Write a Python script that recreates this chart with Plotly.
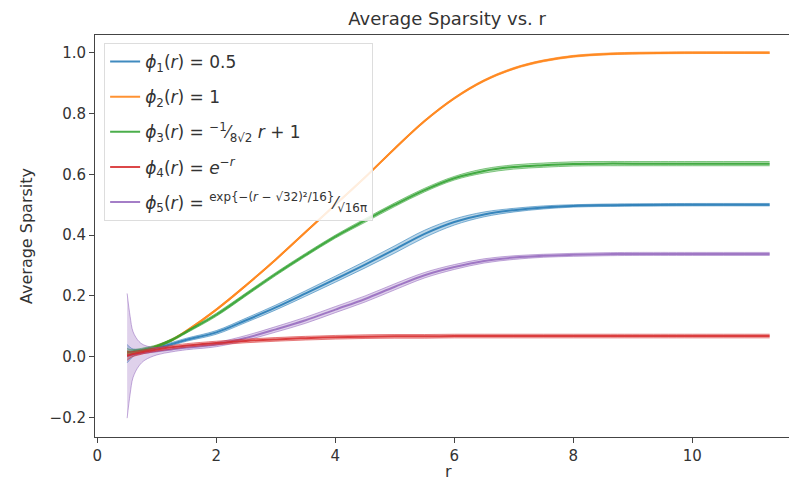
import plotly.graph_objects as go

r_vals = [0.5, 0.55, 0.6, 0.7, 0.8, 1.0, 1.25, 1.5, 2.0, 2.5, 3.0, 3.5, 4.0, 4.5,
          5.0, 5.5, 6.0, 6.5, 7.0, 7.5, 8.0, 8.5, 9.0, 10.0, 11.3]

phi1_mean = [0.010, 0.011, 0.013, 0.017, 0.021, 0.030, 0.042, 0.056, 0.080, 0.120, 0.162, 0.208,
             0.255, 0.303, 0.353, 0.404, 0.443, 0.468, 0.482, 0.491, 0.496, 0.498, 0.499, 0.500, 0.500]
phi1_std = [0.030, 0.020, 0.012, 0.007, 0.006, 0.005, 0.005, 0.005, 0.006, 0.007, 0.008, 0.009,
            0.010, 0.011, 0.012, 0.012, 0.010, 0.008, 0.006, 0.005, 0.004, 0.004, 0.004, 0.004, 0.004]

phi2_mean = [0.010, 0.012, 0.014, 0.018, 0.022, 0.035, 0.055, 0.085, 0.155, 0.235, 0.320, 0.410,
             0.500, 0.590, 0.685, 0.775, 0.850, 0.908, 0.948, 0.973, 0.988, 0.995, 0.998, 1.000, 1.000]
phi2_std = [0.010, 0.006, 0.004, 0.003, 0.003, 0.003, 0.003, 0.003, 0.003, 0.003, 0.003, 0.003,
            0.003, 0.003, 0.003, 0.003, 0.003, 0.003, 0.003, 0.003, 0.003, 0.003, 0.003, 0.003, 0.003]

phi3_mean = [0.015, 0.016, 0.018, 0.021, 0.025, 0.035, 0.055, 0.082, 0.138, 0.205, 0.272, 0.335,
             0.395, 0.448, 0.500, 0.548, 0.587, 0.611, 0.624, 0.630, 0.634, 0.635, 0.635, 0.635, 0.635]
phi3_std = [0.012, 0.008, 0.006, 0.005, 0.005, 0.004, 0.004, 0.004, 0.005, 0.005, 0.005, 0.005,
            0.005, 0.006, 0.006, 0.006, 0.006, 0.007, 0.007, 0.007, 0.007, 0.007, 0.007, 0.007, 0.007]

phi4_mean = [0.003, 0.006, 0.009, 0.013, 0.017, 0.024, 0.031, 0.037, 0.045, 0.052, 0.057, 0.061,
             0.064, 0.066, 0.067, 0.067, 0.068, 0.068, 0.068, 0.068, 0.068, 0.068, 0.068, 0.068, 0.068]
phi4_std = [0.015, 0.010, 0.008, 0.007, 0.006, 0.006, 0.006, 0.006, 0.006, 0.006, 0.006, 0.006,
            0.006, 0.006, 0.006, 0.006, 0.006, 0.006, 0.006, 0.006, 0.006, 0.006, 0.006, 0.006, 0.006]

phi5_mean = [0.003, 0.005, 0.007, 0.010, 0.013, 0.018, 0.024, 0.030, 0.040, 0.062, 0.090, 0.120,
             0.155, 0.190, 0.230, 0.268, 0.295, 0.315, 0.326, 0.332, 0.335, 0.337, 0.338, 0.338, 0.338]
phi5_std = [0.205, 0.128, 0.075, 0.040, 0.024, 0.012, 0.008, 0.007, 0.007, 0.008, 0.009, 0.010,
            0.010, 0.010, 0.010, 0.009, 0.008, 0.007, 0.006, 0.005, 0.005, 0.005, 0.005, 0.005, 0.005]

labels = [
    "<i>ϕ</i><sub>1</sub>(<i>r</i>) = 0.5",
    "<i>ϕ</i><sub>2</sub>(<i>r</i>) = 1",
    "<i>ϕ</i><sub>3</sub>(<i>r</i>) = <sup>−1</sup>⁄<sub>8√2</sub> <i>r</i> + 1",
    "<i>ϕ</i><sub>4</sub>(<i>r</i>) = <i>e</i><sup>−<i>r</i></sup>",
    "<i>ϕ</i><sub>5</sub>(<i>r</i>) = <sup>exp{−(<i>r</i> − √32)²/16}</sup>⁄<sub>√16π</sub>",
]
colors = [(31, 119, 180), (255, 127, 14), (44, 160, 44), (214, 39, 40), (148, 103, 189)]
means = [phi1_mean, phi2_mean, phi3_mean, phi4_mean, phi5_mean]
stds = [phi1_std, phi2_std, phi3_std, phi4_std, phi5_std]

fig = go.Figure()
order = [0, 1, 2, 4, 3]
for i in order:
    c = colors[i]
    m, s = means[i], stds[i]
    upper = [a + b for a, b in zip(m, s)]
    lower = [a - b for a, b in zip(m, s)]
    fig.add_trace(go.Scatter(x=r_vals, y=upper, mode="lines", showlegend=False,
                             line=dict(color=f"rgba({c[0]},{c[1]},{c[2]},0.55)", width=1, shape="spline", smoothing=1),
                             hoverinfo="skip"))
    fig.add_trace(go.Scatter(x=r_vals, y=lower, mode="lines", showlegend=False, fill="tonexty",
                             fillcolor=f"rgba({c[0]},{c[1]},{c[2]},0.3)",
                             line=dict(color=f"rgba({c[0]},{c[1]},{c[2]},0.55)", width=1, shape="spline", smoothing=1),
                             hoverinfo="skip"))
    fig.add_trace(go.Scatter(x=r_vals, y=m, mode="lines", name=labels[i], legendrank=i + 1,
                             legendgroup=f"g{i}",
                             line=dict(color=f"rgba({c[0]},{c[1]},{c[2]},0.85)", width=2, shape="spline", smoothing=1)))

axis_common = dict(showline=True, linecolor="#444", linewidth=1, ticks="outside", ticklen=5,
                   tickcolor="#444", showgrid=False, zeroline=False, automargin=False,
                   tickfont=dict(family="DejaVu Sans", size=15, color="#333"))

fig.update_layout(
    width=797, height=482,
    margin=dict(l=87, r=8, t=27, b=53),
    paper_bgcolor="white", plot_bgcolor="white",
    title=dict(text="Average Sparsity vs. r", x=0.551, xanchor="center", y=0.978, yanchor="middle",
               font=dict(family="DejaVu Sans", size=18, color="#333")),
    xaxis=dict(range=[-0.04, 11.76], tickvals=[0, 2, 4, 6, 8, 10], mirror=True, **axis_common),
    yaxis=dict(range=[-0.264, 1.058], tickvals=[-0.2, 0, 0.2, 0.4, 0.6, 0.8, 1.0],
               ticktext=["−0.2", "0.0", "0.2", "0.4", "0.6", "0.8", "1.0"],
               title=dict(text="Average Sparsity", font=dict(family="DejaVu Sans", size=16, color="#333"), standoff=12),
               **axis_common),
    legend=dict(x=0.013, y=0.98, xanchor="left", yanchor="top", bgcolor="rgba(255,255,255,0.85)",
                bordercolor="#ddd", borderwidth=1, tracegroupgap=10,
                font=dict(family="DejaVu Sans", size=17, color="#333")),
    showlegend=True,
    annotations=[dict(text="r", xref="paper", yref="paper", x=0.504, y=-0.085,
                      xanchor="center", yanchor="middle", showarrow=False,
                      font=dict(family="DejaVu Sans", size=16, color="#333"))],
)

fig.write_html("out.html")
